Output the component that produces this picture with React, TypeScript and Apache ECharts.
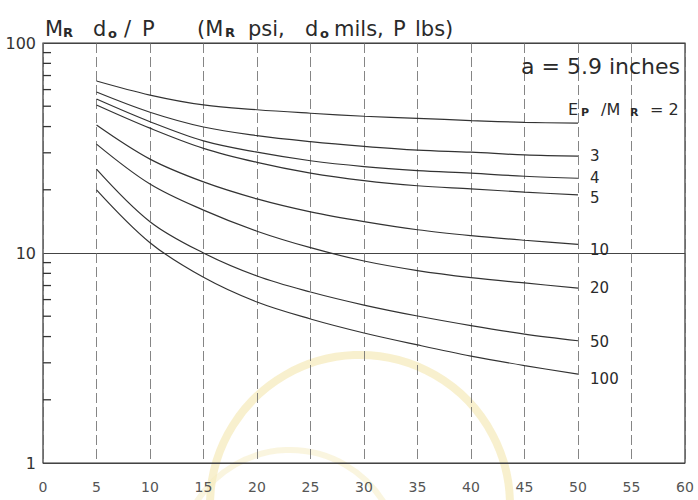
import React, { useEffect, useRef } from "react";
import * as echarts from "echarts";

// Deflection ratio d (inches) on x, MR*do/P on y (log)
const xValues = [5, 10, 15, 20, 25, 30, 35, 40, 45, 50];
const ratioNames = ["2", "3", "4", "5", "10", "20", "50", "100"];
const curve2 = [65.9, 56.5, 50.7, 48.1, 46.3, 44.8, 43.8, 42.7, 41.9, 41.5];
const curve3 = [58.4, 46.8, 39.8, 36.2, 33.9, 32.2, 30.9, 30.2, 29.3, 28.9];
const curve4 = [54.1, 42.2, 34.2, 30.2, 27.5, 25.8, 24.7, 24.0, 23.2, 22.7];
const curve5 = [50.7, 39.3, 31.5, 27.0, 24.0, 22.1, 20.9, 20.2, 19.5, 18.9];
const curve10 = [40.7, 28.0, 21.8, 18.1, 15.7, 14.1, 12.9, 12.1, 11.5, 11.0];
const curve20 = [33.0, 21.3, 16.0, 12.7, 10.6, 9.16, 8.25, 7.64, 7.2, 6.81];
const curve50 = [25.1, 14.1, 10.0, 7.77, 6.52, 5.65, 5.01, 4.51, 4.11, 3.82];
const curve100 = [20.0, 11.2, 7.66, 5.84, 4.85, 4.16, 3.65, 3.23, 2.91, 2.65];
const curves = [curve2, curve3, curve4, curve5, curve10, curve20, curve50, curve100];
const labelDy = [0, 0, 0, 3, 6, 0, 1, 5];
const minorTickValues = [2, 3, 4, 5, 6, 7, 8, 9, 20, 30, 40, 50, 60, 70, 80, 90];

const FONT = "DejaVu Sans";
const INK = "#2a2a2a";

function txt(text: string, x: number, y: number, size: number, extra: any = {}) {
  return {
    type: "text",
    x,
    y,
    silent: true,
    style: {
      text,
      font: `${extra.bold ? "bold " : ""}${size}px '${FONT}'`,
      fill: extra.fill || INK,
      align: extra.align || "left",
      verticalAlign: "middle",
    },
  };
}

export default function App() {
  const ref = useRef<HTMLDivElement>(null);
  useEffect(() => {
    if (!ref.current) return;
    const chart = echarts.init(ref.current, null, { renderer: "svg" });

    const lineSeries = curves.map((vals, si) => ({
      type: "line",
      name: ratioNames[si],
      smooth: 0.35,
      symbol: "circle",
      symbolSize: 0.1,
      showSymbol: true,
      silent: true,
      z: 3,
      lineStyle: { color: "#333", width: 1.2 },
      itemStyle: { color: "#333" },
      data: xValues.map((x, i) => {
        const p: any = { value: [x, vals[i]] };
        if (i === xValues.length - 1 && si > 0) {
          p.label = {
            show: true,
            position: "right",
            distance: 12,
            offset: [0, labelDy[si]],
            formatter: ratioNames[si],
            fontFamily: FONT,
            fontSize: 15,
            color: INK,
          };
        }
        return p;
      }),
    }));

    const graphics: any[] = [
      // watermark ring
      {
        type: "circle",
        silent: true,
        z: -1,
        shape: { cx: 360, cy: 505, r: 150 },
        style: { fill: "none", stroke: "#f3e6ad", lineWidth: 8, opacity: 0.6 },
      },
      {
        type: "circle",
        silent: true,
        z: -1,
        shape: { cx: 290, cy: 560, r: 110 },
        style: { fill: "none", stroke: "#f5ecc0", lineWidth: 6, opacity: 0.5 },
      },
      // title
      txt("M", 45, 28.5, 21),
      txt("R", 63, 32, 13, { bold: true }),
      txt("d", 93, 28.5, 21),
      txt("o", 108, 33, 13, { bold: true }),
      txt("/", 124, 28.5, 21),
      txt("P", 142, 28.5, 21),
      txt("(M", 197, 28.5, 21),
      txt("R", 225, 32, 13, { bold: true }),
      txt("psi,", 248, 28.5, 21),
      txt("d", 305, 28.5, 21),
      txt("o", 320, 33, 13, { bold: true }),
      txt("mils,", 334, 28.5, 21),
      txt("P", 393, 28.5, 21),
      txt("lbs)", 415, 28.5, 21),
      // annotation
      txt("a = 5.9 inches", 680, 66, 22, { align: "right" }),
      txt("E", 568, 109, 16),
      txt("P", 581, 112, 11, { bold: true }),
      txt("/M", 601, 109, 16),
      txt("R", 630, 112, 11, { bold: true }),
      txt("= 2", 650, 109, 16),
    ];

    chart.setOption({
      animation: false,
      backgroundColor: "#ffffff",
      grid: {
        left: 43,
        right: 13,
        top: 43,
        bottom: 37,
        show: true,
        borderColor: "#333",
        borderWidth: 1.2,
      },
      xAxis: {
        type: "value",
        min: 0,
        max: 60,
        interval: 5,
        axisLine: { show: false },
        axisTick: { show: false },
        axisLabel: { margin: 17, fontSize: 14, fontFamily: FONT, color: "#555" },
        splitLine: { show: true, lineStyle: { color: "#666", width: 0.8, type: [10, 4] } },
      },
      yAxis: {
        type: "log",
        logBase: 10,
        min: 1,
        max: 100,
        axisLine: { show: false },
        axisTick: { show: false },
        minorTick: { show: false },
        axisLabel: { margin: 7, fontSize: 16, fontFamily: FONT, color: "#333" },
        splitLine: { show: true, lineStyle: { color: "#444", width: 1 } },
      },
      series: lineSeries,
    });

    // inner minor ticks of the log axis, positioned through the chart's own scales
    const tickGraphics = minorTickValues.map((v) => {
      const pt = chart.convertToPixel({ gridIndex: 0 }, [0, v]) as number[];
      return {
        type: "line",
        silent: true,
        shape: { x1: pt[0], y1: pt[1], x2: pt[0] + 8, y2: pt[1] },
        style: { stroke: "#333", lineWidth: 1.3 },
      };
    });
    chart.setOption({ graphic: [...graphics, ...tickGraphics] });

    return () => chart.dispose();
  }, []);

  return (
    <div
      ref={ref}
      style={{ position: "absolute", left: 0, top: 0, width: 698, height: 500, background: "#fff" }}
    />
  );
}
